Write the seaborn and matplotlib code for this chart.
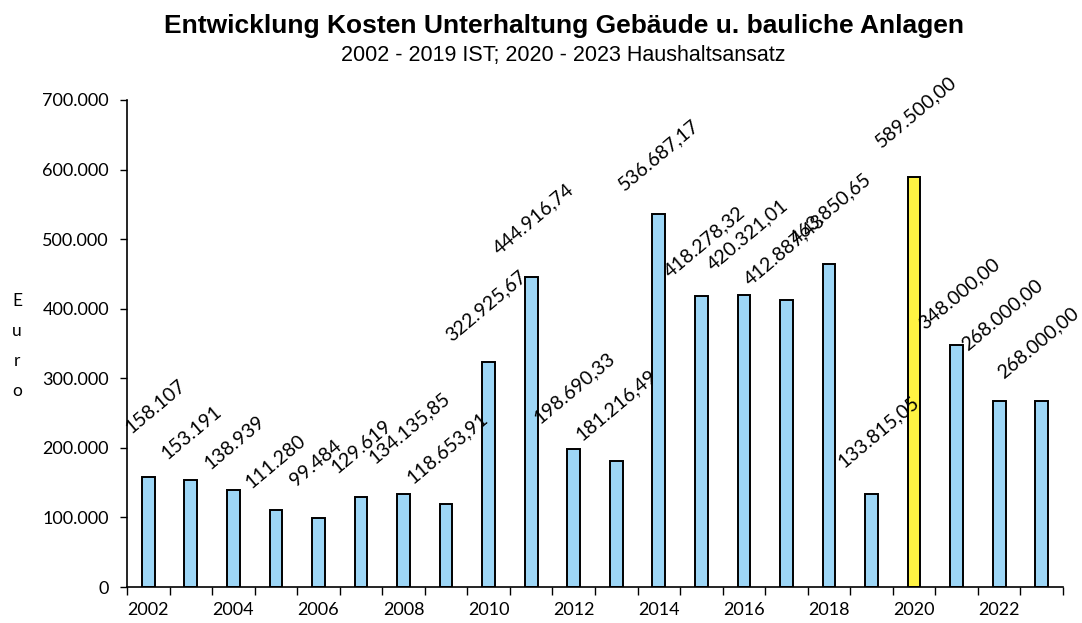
import matplotlib
matplotlib.use("Agg")
import matplotlib.pyplot as plt
import matplotlib.ticker as mticker
import numpy as np
import pandas as pd
import seaborn as sns

# Annual maintenance costs for buildings and structural facilities (Euro)
years = list(range(2002, 2024))
costs = [158107, 153191, 138939, 111280, 99484, 129619, 134135.85, 118653.91,
         322925.67, 444916.74, 198690.33, 181216.49, 536687.17, 418278.32,
         420321.01, 412887.43, 463850.65, 133815.05, 589500.00, 348000.00,
         268000.00, 268000.00]
# decimal places shown in each value label
label_decimals = [0, 0, 0, 0, 0, 0, 2, 2, 2, 2, 2, 2, 2, 2, 2, 2, 2, 2, 2, 2, 2, 2]
x_tick_labels = [str(y) if y % 2 == 0 else "" for y in years]
y_ticks = [0, 100000, 200000, 300000, 400000, 500000, 600000, 700000]

title = "Entwicklung Kosten Unterhaltung Gebäude u. bauliche Anlagen"
subtitle = "2002 - 2019 IST; 2020 - 2023 Haushaltsansatz"

# label placement (pixel offsets of each rotated label centre from its bar top)
label_offsets = [(7, 71), (1, 48), (1, 48), (0, 48), (-3, 55), (1, 50), (6, 66),
                 (1, 57), (-3, 56), (2, 59), (1, 61), (0, 56), (0, 59), (3, 54),
                 (4, 60), (-2, 50), (2, 56), (7, 62), (2, 65), (3, 51), (3, 86),
                 (-4, 58)]

BLUE = "#9dd6f6"
YELLOW = "#fff343"
colors = [YELLOW if y == 2020 else BLUE for y in years]


def de_format(v, dec):
    s = f"{v:,.{dec}f}"
    return s.replace(",", "X").replace(".", ",").replace("X", ".")


sns.set_theme(style="white")
plt.rcParams["font.family"] = ["Lato", "DejaVu Sans"]
plt.rcParams["text.color"] = "black"
plt.rcParams["xtick.color"] = "black"
plt.rcParams["ytick.color"] = "black"

df = pd.DataFrame({"year": [str(y) for y in years], "cost": costs})

fig = plt.figure(figsize=(10.82, 6.23), dpi=100)
ax = fig.add_axes([127 / 1082, 1 - 587 / 623, (1063 - 127) / 1082, (587 - 100) / 623])

sns.barplot(data=df, x="year", y="cost", hue="year", palette=colors, legend=False,
            width=0.3, edgecolor="black", linewidth=1.4, saturation=1, ax=ax)

ax.set_xlim(-0.5, len(years) - 0.5)
ax.set_ylim(0, 700000)

# value labels
for i, (v, dec, (dx, dy)) in enumerate(zip(costs, label_decimals, label_offsets)):
    ax.annotate(de_format(v, dec), xy=(i, v), xytext=(dx, dy),
                textcoords="offset pixels", ha="center", va="center",
                rotation=40, rotation_mode="anchor", fontsize=14, color="black")

# axes styling
for side in ("top", "right"):
    ax.spines[side].set_visible(False)
for side in ("left", "bottom"):
    ax.spines[side].set_color("black")
    ax.spines[side].set_linewidth(1.2)

ax.set_yticks(y_ticks)
ax.yaxis.set_major_formatter(mticker.FuncFormatter(lambda v, p: de_format(v, 0)))
ax.tick_params(axis="y", which="major", left=True, length=5, width=1.0,
               labelsize=13, pad=8)

ax.set_xticks(range(len(years)))
ax.set_xticklabels(x_tick_labels)
ax.xaxis.set_minor_locator(mticker.FixedLocator(np.arange(-0.5, len(years), 1.0)))
ax.tick_params(axis="x", which="major", bottom=False, length=0, labelsize=13, pad=11)
ax.tick_params(axis="x", which="minor", bottom=True, length=6, width=1.0)

ax.set_xlabel("")
ax.set_ylabel("")

# vertically stacked axis title
fig.text(17 / 1082, 1 - 346 / 623, "E\nu\nr\no", ha="center", va="center",
         fontsize=12.5, linespacing=2.1)

fig.text(564 / 1082, 1 - 26 / 623, title, ha="center", va="center", fontsize=19,
         fontweight="bold", family=["Liberation Sans", "DejaVu Sans"])
fig.text(563 / 1082, 1 - 55 / 623, subtitle, ha="center", va="center", fontsize=15.5,
         family=["Liberation Sans", "DejaVu Sans"])

fig.savefig("out.png", dpi=100)
